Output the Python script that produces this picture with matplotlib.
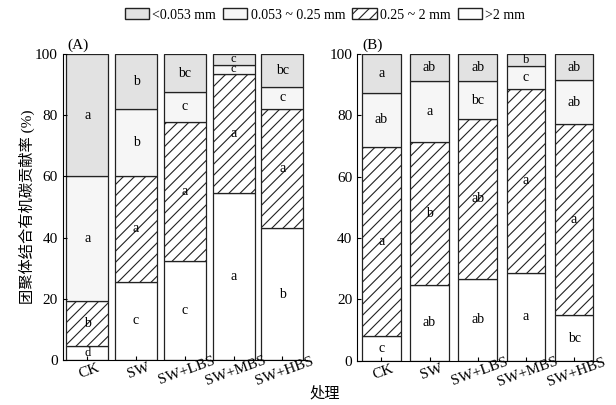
import matplotlib
matplotlib.use("Agg")
import matplotlib.pyplot as plt
import matplotlib.transforms as mtransforms
import numpy as np
from matplotlib.patches import Patch

plt.rcParams['font.family'] = ['Liberation Serif', 'Noto Sans CJK SC']
plt.rcParams['hatch.linewidth'] = 0.8

treatments = ["CK", "SW", "SW+LBS", "SW+MBS", "SW+HBS"]
classes = ["<0.053 mm", "0.053 ~ 0.25 mm", "0.25 ~ 2 mm", ">2 mm"]

# (A) contributions, bottom to top: >2, 0.25~2, 0.053~0.25, <0.053
a_gt2 = [4.5, 25.6, 32.5, 54.5, 43.1]
a_025 = [14.8, 34.6, 45.4, 38.9, 39.0]
a_0053 = [40.7, 21.8, 9.6, 3.0, 7.1]
a_lt0053 = [40.0, 18.0, 12.5, 3.6, 10.8]
a_letters = [["d", "c", "c", "a", "b"],
             ["b", "a", "a", "a", "a"],
             ["a", "b", "c", "c", "c"],
             ["a", "b", "bc", "c", "bc"]]

# (B)
b_gt2 = [8.2, 24.8, 26.7, 28.6, 14.8]
b_025 = [61.4, 46.4, 52.2, 60.0, 62.3]
b_0053 = [17.8, 19.9, 12.1, 7.3, 14.3]
b_lt0053 = [12.6, 8.9, 9.0, 4.1, 8.6]
b_letters = [["c", "ab", "ab", "a", "bc"],
             ["a", "b", "ab", "a", "a"],
             ["ab", "a", "bc", "c", "ab"],
             ["a", "ab", "ab", "b", "ab"]]

styles = [  # bottom to top
    dict(facecolor="white", hatch=None),
    dict(facecolor="white", hatch="///"),
    dict(facecolor="#f6f6f6", hatch=None),
    dict(facecolor="#e2e2e2", hatch=None),
]

fig = plt.figure(figsize=(6.16, 4.05), dpi=100)
ax1 = fig.add_axes([0.102, 0.111, 0.396, 0.756])
ax2 = fig.add_axes([0.580, 0.109, 0.391, 0.758])


def draw(ax, segs, letters, width, tag):
    x = np.arange(len(treatments))
    bottom = np.zeros(len(treatments))
    for seg, st, lab in zip(segs, styles, letters):
        seg = np.array(seg)
        ax.bar(x, seg, width, bottom=bottom, facecolor=st["facecolor"],
               hatch=st["hatch"], edgecolor="#222222", linewidth=0.9)
        for xi, b, h, t in zip(x, bottom, seg, lab):
            # tiny segments: smaller letters so neighbours don't collide
            fs = 9 if h < 5 else 10
            ax.text(xi, b + h / 2, t, ha="center", va="center", fontsize=fs)
        bottom = bottom + seg
    ax.set_xlim(-0.5, 4.5)
    ax.set_ylim(0, 100)
    ax.set_yticks([0, 20, 40, 60, 80, 100])
    ax.set_xticks(x)
    ax.set_xticklabels(treatments)
    off = mtransforms.ScaledTranslation(-9 / 100, 0, fig.dpi_scale_trans)
    for lbl in ax.get_xticklabels():
        lbl.set_rotation(20)
        lbl.set_ha("center")
        lbl.set_rotation_mode("anchor")
        lbl.set_transform(lbl.get_transform() + off)
    ax.tick_params(direction="in", length=3, labelsize=11, width=0.8)
    ax.spines["top"].set_visible(False)
    ax.spines["right"].set_visible(False)
    ax.text(0.02, 1.005, tag, transform=ax.transAxes, fontsize=11,
            ha="left", va="bottom")


draw(ax1, [a_gt2, a_025, a_0053, a_lt0053], a_letters, 0.86, "(A)")
draw(ax2, [b_gt2, b_025, b_0053, b_lt0053], b_letters, 0.80, "(B)")

ax1.set_ylabel("团聚体结合有机碳贡献率 (%)", fontsize=11, labelpad=0)
fig.text(325 / 616, 1 - 393 / 405, "处理", ha="center", va="center", fontsize=11)

handles = [Patch(facecolor=styles[3]["facecolor"], edgecolor="#222222"),
           Patch(facecolor=styles[2]["facecolor"], edgecolor="#222222"),
           Patch(facecolor="white", hatch="///", edgecolor="#222222"),
           Patch(facecolor="white", edgecolor="#222222")]
fig.legend(handles, classes, loc="center", bbox_to_anchor=(325 / 616, 1 - 15 / 405),
           ncol=4, frameon=False, fontsize=10, handlelength=1.75, handleheight=0.8,
           columnspacing=0.5, handletextpad=0.25)

fig.savefig("out.png", dpi=100)
